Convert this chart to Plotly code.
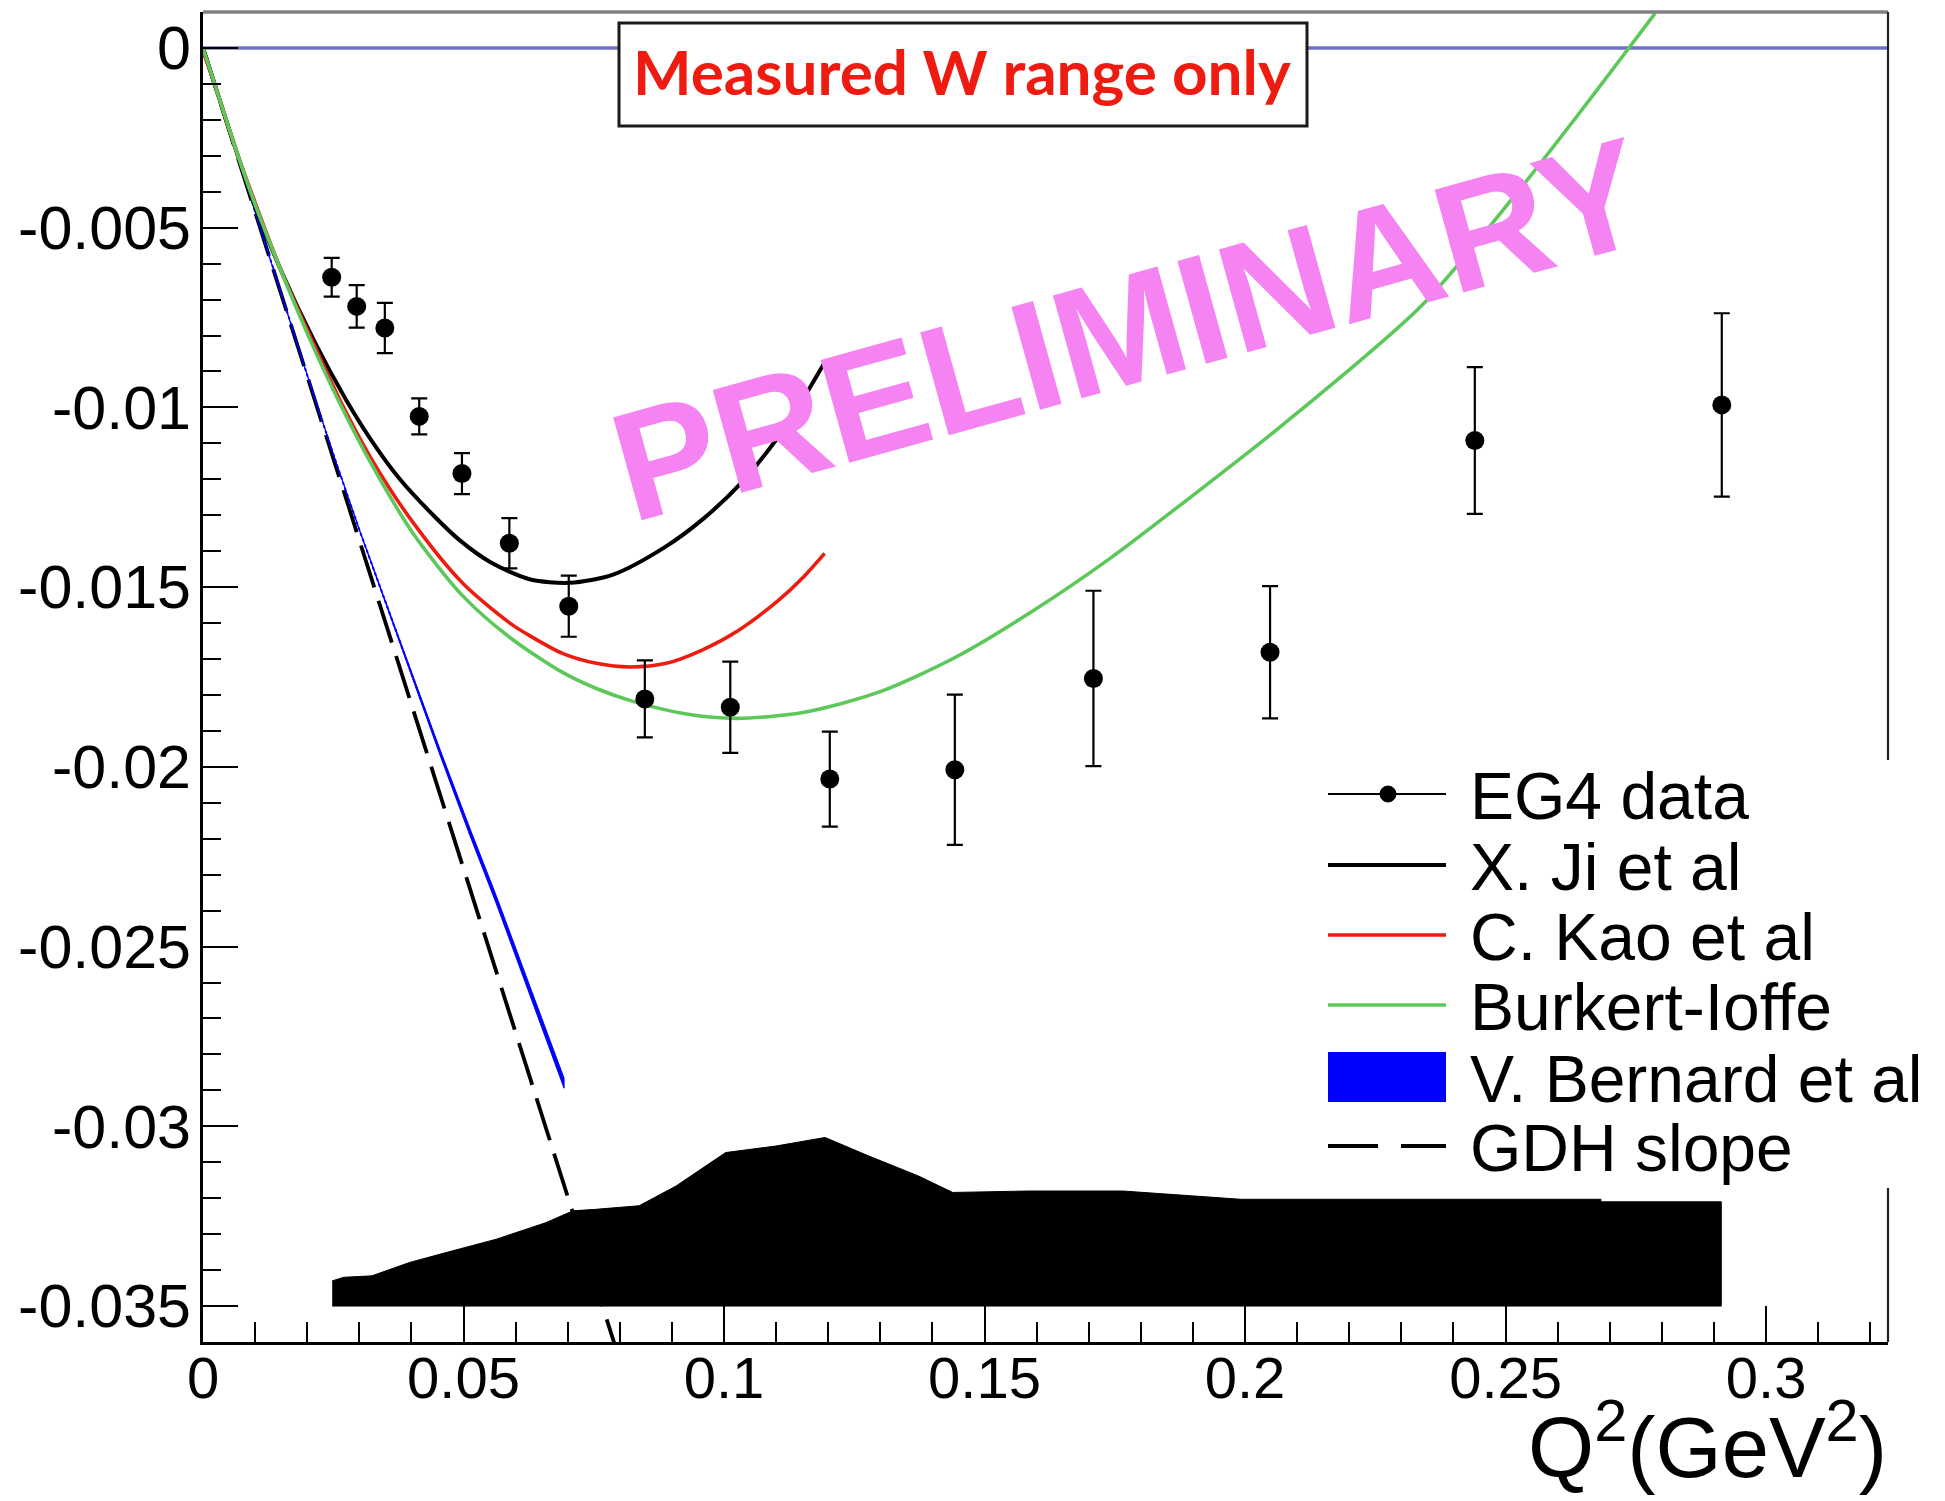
import plotly.graph_objects as go
import numpy as np

# ---------------- data ----------------
# EG4 data points
q2_data = [0.0247, 0.0295, 0.0349, 0.0415, 0.0497, 0.0588, 0.0702, 0.0848,
           0.1012, 0.1203, 0.1443, 0.1709, 0.2048, 0.2441, 0.2915]
g_data = [-0.00638, -0.00719, -0.00779, -0.01025, -0.01184, -0.01378, -0.01553,
          -0.01811, -0.01834, -0.02034, -0.02008, -0.01754, -0.01681, -0.01092, -0.00993]
g_err = [0.00054, 0.00059, 0.00070, 0.00050, 0.00057, 0.00070, 0.00085, 0.00107,
         0.00127, 0.00132, 0.00209, 0.00244, 0.00184, 0.00204, 0.00255]

# X. Ji et al
ji_x = [0, 0.002, 0.006, 0.010, 0.015, 0.0215, 0.0275, 0.0327, 0.0378, 0.0442, 0.0493,
        0.0551, 0.0627, 0.0704, 0.0787, 0.0885, 0.0960, 0.1033, 0.1100, 0.1150, 0.1195]
ji_y = [0, -0.0009, -0.0027, -0.0044, -0.0062, -0.0082, -0.0098, -0.0110, -0.0120, -0.0130,
        -0.0137, -0.0143, -0.01478, -0.01488, -0.01465, -0.0139, -0.0131, -0.0121, -0.0109,
        -0.0098, -0.0087]

# C. Kao et al
kao_x = [0, 0.002, 0.006, 0.010, 0.015, 0.0205, 0.0263, 0.0326, 0.0403, 0.0499, 0.0589,
         0.0627, 0.0691, 0.0755, 0.0819, 0.0889, 0.0958, 0.1026, 0.1105, 0.1153, 0.1193]
kao_y = [-0.0001, -0.0009, -0.0027, -0.0043, -0.0062, -0.0080, -0.0098, -0.0115, -0.0132,
         -0.0149, -0.0160, -0.01635, -0.01685, -0.01712, -0.01722, -0.01712, -0.01675,
         -0.01622, -0.01536, -0.01471, -0.01406]

# Burkert-Ioffe
bi_x = [0, 0.0019, 0.0058, 0.0096, 0.0147, 0.0205, 0.0263, 0.0326, 0.0403, 0.0499, 0.0589,
        0.0691, 0.0755, 0.0819, 0.0928, 0.1026, 0.1154, 0.1301, 0.1447, 0.1594, 0.1741,
        0.1888, 0.2071, 0.2340, 0.2529, 0.2637, 0.2721, 0.2787]
bi_y = [0, -0.00085, -0.0026, -0.0042, -0.0061, -0.0081, -0.0099, -0.01165, -0.0135,
        -0.01525, -0.0164, -0.01738, -0.01782, -0.01815, -0.01853, -0.01865, -0.01848,
        -0.0179, -0.01693, -0.01565, -0.0142, -0.01258, -0.0105, -0.00715, -0.0039,
        -0.0019, -0.0003, 0.00096]

# V. Bernard et al (band: centre and half width)
vb_x = [0, 0.010, 0.020, 0.025, 0.030, 0.035, 0.040, 0.0455, 0.0512, 0.0563, 0.0614,
        0.0647, 0.0693]
vb_y = [0, -0.00457, -0.0091, -0.0113, -0.0134, -0.0154, -0.0174, -0.0196, -0.0218,
        -0.0237, -0.0257, -0.0270, -0.0288]
vb_hw = [0, 0, 0, 0, 0.00001, 0.00002, 0.00005, 0.00008, 0.0001, 0.00011, 0.00012,
         0.00013, 0.00014]

# GDH slope
gdh_x = [0, 0.0793]
gdh_y = [0, -0.0362]

# systematic error band
sys_x = [0.0248, 0.0270, 0.0324, 0.0396, 0.0467, 0.0563, 0.0658, 0.0710, 0.0753, 0.0837,
         0.0908, 0.1003, 0.1099, 0.1194, 0.1277, 0.1373, 0.1439, 0.1582, 0.1766, 0.1849,
         0.1992, 0.2683, 0.2683, 0.2914]
sys_top = [-0.0343, -0.0342, -0.03416, -0.03379, -0.03351, -0.03314, -0.03268, -0.03235,
           -0.03231, -0.03221, -0.03166, -0.03073, -0.03055, -0.03031, -0.03082, -0.03138,
           -0.03184, -0.0318, -0.0318, -0.03189, -0.03203, -0.03203, -0.0321, -0.0321]
sys_bottom = -0.035

x_ticks = [0, 0.05, 0.1, 0.15, 0.2, 0.25, 0.3]
x_ticktext = ["0", "0.05", "0.1", "0.15", "0.2", "0.25", "0.3"]
y_ticks = [0, -0.005, -0.01, -0.015, -0.02, -0.025, -0.03, -0.035]
y_ticktext = ["0", "-0.005", "-0.01", "-0.015", "-0.02", "-0.025", "-0.03", "-0.035"]

legend_names = ["EG4 data", "X. Ji et al", "C. Kao et al", "Burkert-Ioffe",
                "V. Bernard et al", "GDH slope"]

# ---------------- styling ----------------
OFF = 8                       # page body margin of the html page
W, H = 1945 - OFF, 1501 - OFF
L, R, T, B = 203, 1888, 12, 1342   # plot frame in page pixels
FONT = "Liberation Sans, Arial, Helvetica, sans-serif"
RED = "#ee1c10"
GREEN = "#5cc85a"
BLUE = "#0000ff"
PINK = "rgb(246,131,242)"


def px(x):
    return (x - L) / (R - L)


def py(y):
    return (B - y) / (B - T)


fig = go.Figure()

# GDH slope (dashed)
fig.add_trace(go.Scatter(x=gdh_x, y=gdh_y, mode="lines", name=legend_names[5],
                         line=dict(color="black", width=3.8, dash="44px,14px"),
                         showlegend=False))

# V. Bernard band
vb_up = [y + h for y, h in zip(vb_y, vb_hw)]
vb_lo = [y - h for y, h in zip(vb_y, vb_hw)]
fig.add_trace(go.Scatter(x=vb_x + vb_x[::-1], y=vb_up + vb_lo[::-1], mode="lines",
                         fill="toself", fillcolor=BLUE, line=dict(color=BLUE, width=1),
                         name=legend_names[4], showlegend=False))
fig.add_trace(go.Scatter(x=vb_x, y=vb_y, mode="lines", line=dict(color=BLUE, width=2, dash="dot"),
                         showlegend=False))

# model curves
fig.add_trace(go.Scatter(x=ji_x, y=ji_y, mode="lines", name=legend_names[1],
                         line=dict(color="black", width=4, shape="spline", smoothing=0.8),
                         showlegend=False))
fig.add_trace(go.Scatter(x=kao_x, y=kao_y, mode="lines", name=legend_names[2],
                         line=dict(color=RED, width=3.6, shape="spline", smoothing=0.8),
                         showlegend=False))
fig.add_trace(go.Scatter(x=bi_x, y=bi_y, mode="lines", name=legend_names[3],
                         line=dict(color=GREEN, width=3.6, shape="spline", smoothing=0.8),
                         showlegend=False))

# systematic band
fig.add_trace(go.Scatter(x=sys_x + [sys_x[-1], sys_x[0]],
                         y=sys_top + [sys_bottom, sys_bottom],
                         mode="lines", fill="toself", fillcolor="black",
                         line=dict(color="black", width=1), showlegend=False,
                         name="systematic"))

# data
fig.add_trace(go.Scatter(x=q2_data, y=g_data, mode="markers", name=legend_names[0],
                         marker=dict(color="black", size=19, symbol="circle"),
                         error_y=dict(type="data", array=g_err, visible=True,
                                      color="black", thickness=2.2, width=8),
                         showlegend=False))

shapes = []
# y = 0 line
shapes.append(dict(type="line", xref="paper", yref="y", x0=0, x1=1, y0=0, y1=0,
                   line=dict(color="#7070c0", width=3.5), layer="below"))
# frame: top (grey) and right (black)
shapes.append(dict(type="line", xref="paper", yref="paper", x0=0, x1=1, y0=1, y1=1,
                   line=dict(color="#808080", width=3.5), layer="above"))
shapes.append(dict(type="line", xref="paper", yref="paper", x0=1, x1=1, y0=0, y1=1,
                   line=dict(color="#222222", width=2.2), layer="above"))

# "Measured W range only" box
shapes.append(dict(type="rect", xref="paper", yref="paper",
                   x0=px(619), x1=px(1307), y0=py(126), y1=py(23),
                   line=dict(color="#1a1a1a", width=3), fillcolor="white", layer="above"))

# legend background + symbols
shapes.append(dict(type="rect", xref="paper", yref="paper",
                   x0=px(1322), x1=px(1945), y0=py(1188), y1=py(760),
                   line=dict(width=0), fillcolor="white", layer="above"))
sx0, sx1 = 1328, 1446
rows = [794, 865, 935, 1005, 1077, 1146]
shapes.append(dict(type="line", xref="paper", yref="paper", x0=px(sx0), x1=px(sx1),
                   y0=py(rows[0]), y1=py(rows[0]), line=dict(color="black", width=2), layer="above"))
shapes.append(dict(type="circle", xref="paper", yref="paper", x0=px(1380), x1=px(1396),
                   y0=py(rows[0] + 8), y1=py(rows[0] - 8), line=dict(color="black", width=1),
                   fillcolor="black", layer="above"))
for r, col, wd in [(rows[1], "black", 4), (rows[2], RED, 3.6), (rows[3], GREEN, 3.6)]:
    shapes.append(dict(type="line", xref="paper", yref="paper", x0=px(sx0), x1=px(sx1),
                       y0=py(r), y1=py(r), line=dict(color=col, width=wd), layer="above"))
shapes.append(dict(type="rect", xref="paper", yref="paper", x0=px(sx0), x1=px(sx1),
                   y0=py(rows[4] + 25), y1=py(rows[4] - 25), line=dict(width=0),
                   fillcolor=BLUE, layer="above"))
for a, b in [(1328, 1378), (1401, 1446)]:
    shapes.append(dict(type="line", xref="paper", yref="paper", x0=px(a), x1=px(b),
                       y0=py(rows[5]), y1=py(rows[5]), line=dict(color="black", width=3.8),
                       layer="above"))

annotations = []
for name, r in zip(legend_names, rows):
    annotations.append(dict(xref="paper", yref="paper", x=px(1468), y=py(r + 2),
                            xanchor="left", yanchor="middle", text=name, showarrow=False,
                            font=dict(family=FONT, size=66, color="black")))

annotations.append(dict(xref="paper", yref="paper", x=px(962), y=py(71),
                        xanchor="center", yanchor="middle", text="<b>Measured W range only</b>",
                        showarrow=False,
                        font=dict(family="Lato, Open Sans, sans-serif", size=62, color=RED)))

annotations.append(dict(xref="x", yref="y", x=0.1778, y=-0.00783, text="<b>PRELIMINARY</b>",
                        textangle=-15.5, showarrow=False, xanchor="center", yanchor="middle",
                        font=dict(family=FONT, size=155, color=PINK)))

annotations.append(dict(xref="paper", yref="paper", x=1.0, y=py(1441), xanchor="right",
                        yanchor="middle", text="Q<sup>2</sup>(GeV<sup>2</sup>)", showarrow=False,
                        borderpad=0,
                        font=dict(family=FONT, size=85, color="black")))

x_minor = [round(v, 3) for v in np.arange(0.01, 0.3234, 0.01)]
y_minor = [round(-v, 3) for v in np.arange(0.001, 0.0359, 0.001)]

fig.update_layout(
    width=W, height=H, autosize=False,
    margin=dict(l=L - OFF, r=1945 - R, t=T - OFF, b=1501 - B, pad=0, autoexpand=False),
    paper_bgcolor="white", plot_bgcolor="white",
    showlegend=False,
    shapes=shapes, annotations=annotations,
    xaxis=dict(range=[0, 0.3234], tickmode="array", tickvals=x_ticks, ticktext=x_ticktext,
               ticks="inside", ticklen=36, tickwidth=2, tickcolor="black",
               showline=True, linecolor="black", linewidth=2.5, showgrid=False, zeroline=False,
               automargin=False, ticklabelstandoff=-16,
               tickfont=dict(family=FONT, size=58, color="black"),
               minor=dict(ticks="inside", ticklen=20, tickwidth=2, tickcolor="black",
                          tickmode="array", tickvals=x_minor, showgrid=False)),
    yaxis=dict(range=[-0.036, 0.001], tickmode="array", tickvals=y_ticks, ticktext=y_ticktext,
               ticks="inside", ticklen=35, tickwidth=2, tickcolor="black",
               showline=True, linecolor="black", linewidth=2.5, showgrid=False, zeroline=False,
               automargin=False, ticklabelstandoff=-3,
               tickfont=dict(family=FONT, size=61, color="black"),
               minor=dict(ticks="inside", ticklen=18, tickwidth=2, tickcolor="black",
                          tickmode="array", tickvals=y_minor, showgrid=False)),
)

fig.write_html("out.html", config={"displayModeBar": False})
